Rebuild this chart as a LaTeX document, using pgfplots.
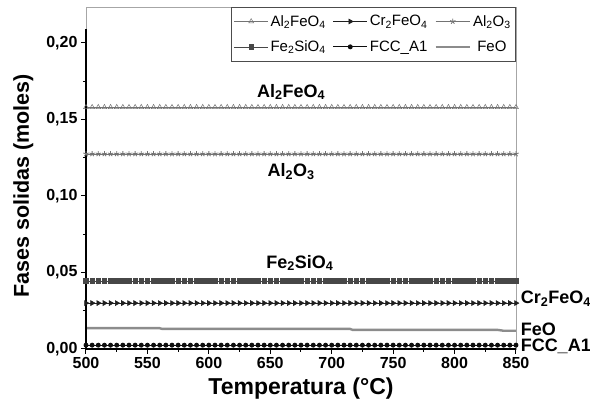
\documentclass[border=0pt]{standalone}
\usepackage{pgfplots}
\usepackage{pgfplotstable}
\pgfplotsset{compat=1.18}
\usepackage{fontspec}
\setmainfont{Liberation Sans}
\definecolor{cAlFe}{gray}{0.45}
\definecolor{cCr}{gray}{0.12}
\definecolor{cAlO}{gray}{0.45}
\definecolor{cFeSi}{gray}{0.28}
\definecolor{cFCC}{gray}{0.05}
\definecolor{cFeO}{gray}{0.55}
\newcommand{\sub}[1]{\textsubscript{#1}}
\pgfplotstableread{
x AlFe Cr AlO FeSi FCC
500 0.158 0.030 0.1275 0.0445 0.0025
505 0.158 0.030 0.1275 0.0445 0.0025
510 0.158 0.030 0.1275 0.0445 0.0025
515 0.158 0.030 0.1275 0.0445 0.0025
520 0.158 0.030 0.1275 0.0445 0.0025
525 0.158 0.030 0.1275 0.0445 0.0025
530 0.158 0.030 0.1275 0.0445 0.0025
535 0.158 0.030 0.1275 0.0445 0.0025
540 0.158 0.030 0.1275 0.0445 0.0025
545 0.158 0.030 0.1275 0.0445 0.0025
550 0.158 0.030 0.1275 0.0445 0.0025
555 0.158 0.030 0.1275 0.0445 0.0025
560 0.158 0.030 0.1275 0.0445 0.0025
565 0.158 0.030 0.1275 0.0445 0.0025
570 0.158 0.030 0.1275 0.0445 0.0025
575 0.158 0.030 0.1275 0.0445 0.0025
580 0.158 0.030 0.1275 0.0445 0.0025
585 0.158 0.030 0.1275 0.0445 0.0025
590 0.158 0.030 0.1275 0.0445 0.0025
595 0.158 0.030 0.1275 0.0445 0.0025
600 0.158 0.030 0.1275 0.0445 0.0025
605 0.158 0.030 0.1275 0.0445 0.0025
610 0.158 0.030 0.1275 0.0445 0.0025
615 0.158 0.030 0.1275 0.0445 0.0025
620 0.158 0.030 0.1275 0.0445 0.0025
625 0.158 0.030 0.1275 0.0445 0.0025
630 0.158 0.030 0.1275 0.0445 0.0025
635 0.158 0.030 0.1275 0.0445 0.0025
640 0.158 0.030 0.1275 0.0445 0.0025
645 0.158 0.030 0.1275 0.0445 0.0025
650 0.158 0.030 0.1275 0.0445 0.0025
655 0.158 0.030 0.1275 0.0445 0.0025
660 0.158 0.030 0.1275 0.0445 0.0025
665 0.158 0.030 0.1275 0.0445 0.0025
670 0.158 0.030 0.1275 0.0445 0.0025
675 0.158 0.030 0.1275 0.0445 0.0025
680 0.158 0.030 0.1275 0.0445 0.0025
685 0.158 0.030 0.1275 0.0445 0.0025
690 0.158 0.030 0.1275 0.0445 0.0025
695 0.158 0.030 0.1275 0.0445 0.0025
700 0.158 0.030 0.1275 0.0445 0.0025
705 0.158 0.030 0.1275 0.0445 0.0025
710 0.158 0.030 0.1275 0.0445 0.0025
715 0.158 0.030 0.1275 0.0445 0.0025
720 0.158 0.030 0.1275 0.0445 0.0025
725 0.158 0.030 0.1275 0.0445 0.0025
730 0.158 0.030 0.1275 0.0445 0.0025
735 0.158 0.030 0.1275 0.0445 0.0025
740 0.158 0.030 0.1275 0.0445 0.0025
745 0.158 0.030 0.1275 0.0445 0.0025
750 0.158 0.030 0.1275 0.0445 0.0025
755 0.158 0.030 0.1275 0.0445 0.0025
760 0.158 0.030 0.1275 0.0445 0.0025
765 0.158 0.030 0.1275 0.0445 0.0025
770 0.158 0.030 0.1275 0.0445 0.0025
775 0.158 0.030 0.1275 0.0445 0.0025
780 0.158 0.030 0.1275 0.0445 0.0025
785 0.158 0.030 0.1275 0.0445 0.0025
790 0.158 0.030 0.1275 0.0445 0.0025
795 0.158 0.030 0.1275 0.0445 0.0025
800 0.158 0.030 0.1275 0.0445 0.0025
805 0.158 0.030 0.1275 0.0445 0.0025
810 0.158 0.030 0.1275 0.0445 0.0025
815 0.158 0.030 0.1275 0.0445 0.0025
820 0.158 0.030 0.1275 0.0445 0.0025
825 0.158 0.030 0.1275 0.0445 0.0025
830 0.158 0.030 0.1275 0.0445 0.0025
835 0.158 0.030 0.1275 0.0445 0.0025
840 0.158 0.030 0.1275 0.0445 0.0025
845 0.158 0.030 0.1275 0.0445 0.0025
850 0.158 0.030 0.1275 0.0445 0.0025
}\phases
\begin{document}
\begin{tikzpicture}
\path[use as bounding box] (-86pt,-57pt) rectangle (504pt,349pt);
\begin{axis}[
  at={(0,0)}, anchor=south west,
  scale only axis, width=430pt, height=342pt,
  xmin=500, xmax=850, ymin=0, ymax=0.2235,
  xtick={500,550,...,850},
  ytick={0,0.05,0.10,0.15,0.20},
  minor x tick num=1, minor y tick num=1,
  tick align=outside, xtick pos=bottom, ytick pos=left,
  major tick length=5pt, minor tick length=3pt,
  tick style={black, line width=1pt},
  axis line style={gray!70, line width=0.6pt},
  /pgf/number format/assume math mode=true,
  yticklabel style={/pgf/number format/use comma, /pgf/number format/fixed, /pgf/number format/fixed zerofill, /pgf/number format/precision=2},
  xticklabel style={/pgf/number format/fixed, /pgf/number format/1000 sep={}},
  ticklabel style={font=\bfseries\fontsize{16}{16}\selectfont},
  xlabel={\textbf{Temperatura (°C)}},
  ylabel={\textbf{Fases solidas (moles)}},
  xlabel style={font=\fontsize{23}{23}\selectfont, yshift=-2pt},
  ylabel style={font=\fontsize{21.5}{21.5}\selectfont, yshift=6pt},
  every axis y label/.append style={at={(ticklabel cs:0.477)}},
  clip=false,
  legend columns=3,
  legend style={at={(1,1)}, anchor=north east, draw=gray!60!black, line width=0.6pt,
    font=\fontsize{15}{15}\selectfont, /tikz/every even column/.append style={column sep=5pt},
    inner ysep=6pt, inner xsep=3pt, row sep=9pt},
  legend image code/.code={\draw[#1, mark repeat=2, mark phase=2] plot coordinates {(0cm,0cm) (0.6cm,0cm) (1.2cm,0cm)};},
]
\addplot[cAlFe, line width=0.6pt, mark=triangle, mark size=2.8pt, mark options={solid, line width=0.5pt}] table[x=x, y=AlFe] {\phases};
\addlegendentry{Al\sub{2}FeO\sub{4}}
\addplot[cCr, line width=0.6pt, mark=triangle*, mark size=2.8pt, mark options={rotate=-90}] table[x=x, y=Cr] {\phases};
\addlegendentry{Cr\sub{2}FeO\sub{4}}
\addplot[cAlO, line width=0.6pt, mark=star, mark size=2.8pt, mark options={line width=0.8pt}] table[x=x, y=AlO] {\phases};
\addlegendentry{Al\sub{2}O\sub{3}}
\addplot[cFeSi, line width=0.6pt, mark=square*, mark size=2.3pt] table[x=x, y=FeSi] {\phases};
\addlegendentry{Fe\sub{2}SiO\sub{4}}
\addplot[cFCC, line width=0.9pt, mark=*, mark size=2pt] table[x=x, y=FCC] {\phases};
\addlegendentry{FCC\_A1}
\addplot[cFeO, line width=2.4pt] coordinates {(500,0.0136) (560,0.0136) (562,0.0131) (715,0.0131) (717,0.0125) (835,0.0125) (840,0.0119) (850,0.0119)};
\addlegendentry{FeO}
\draw[black, line width=1.8pt] (rel axis cs:0,0.936) -- (rel axis cs:0,0) -- (rel axis cs:1,0);
\node[font=\bfseries\fontsize{18}{18}\selectfont] at (axis cs:667,0.168) {Al\sub{2}FeO\sub{4}};
\node[font=\bfseries\fontsize{18}{18}\selectfont] at (axis cs:667,0.116) {Al\sub{2}O\sub{3}};
\node[font=\bfseries\fontsize{18}{18}\selectfont] at (axis cs:674,0.0562) {Fe\sub{2}SiO\sub{4}};
\node[font=\bfseries\fontsize{18}{18}\selectfont, anchor=west] at (axis cs:851,0.033) {Cr\sub{2}FeO\sub{4}};
\node[font=\bfseries\fontsize{18}{18}\selectfont, anchor=west] at (axis cs:851,0.0128) {FeO};
\node[font=\bfseries\fontsize{18}{18}\selectfont, anchor=west] at (axis cs:851,0.0015) {FCC\_A1};
\end{axis}
\end{tikzpicture}
\end{document}
